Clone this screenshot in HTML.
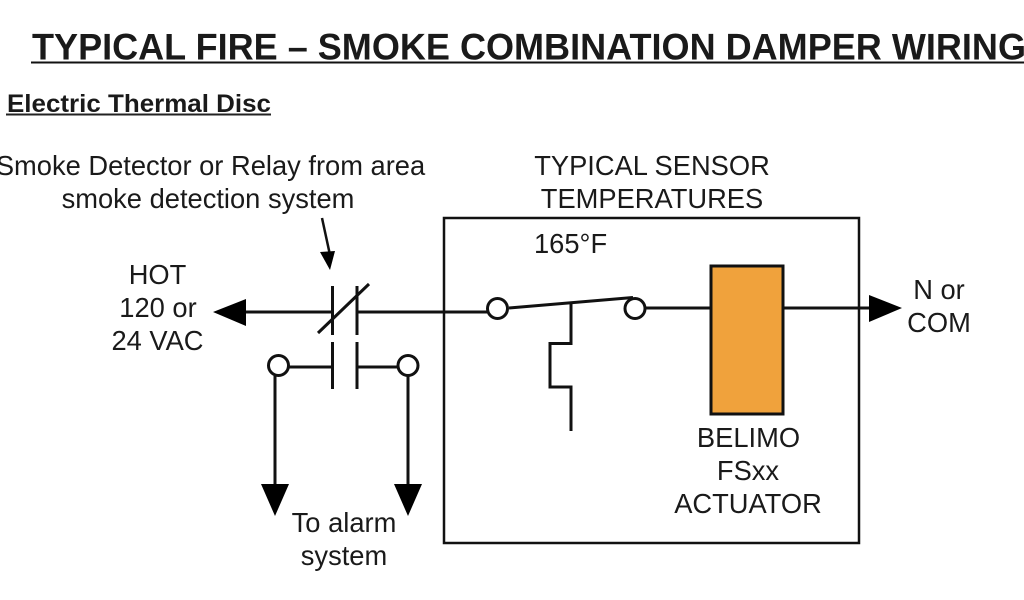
<!DOCTYPE html>
<html>
<head>
<meta charset="utf-8">
<style>
html,body{margin:0;padding:0;background:#fff;width:1024px;height:600px;overflow:hidden}
svg{display:block}
text{font-family:"Liberation Sans",Arial,sans-serif;fill:#1a1a1a}
</style>
</head>
<body>
<svg width="1024" height="600" viewBox="0 0 1024 600" xmlns="http://www.w3.org/2000/svg">
<rect width="1024" height="600" fill="#fff"/>
<text x="32" y="59.500" font-size="37" font-weight="bold" fill="#111" textLength="994" lengthAdjust="spacingAndGlyphs">TYPICAL FIRE – SMOKE COMBINATION DAMPER WIRING</text>
<rect x="31" y="61.500" width="993" height="2" fill="#111"/>
<text x="7" y="112" font-size="25" font-weight="bold" textLength="264" lengthAdjust="spacingAndGlyphs">Electric Thermal Disc</text>
<rect x="6" y="113.500" width="265" height="2" fill="#222"/>
<g font-size="27.300" text-anchor="middle">
<text x="210.500" y="175">Smoke Detector or Relay from area</text>
<text x="208" y="208">smoke detection system</text>
<text x="652" y="175">TYPICAL SENSOR</text>
<text x="652" y="208">TEMPERATURES</text>
<text x="157.500" y="284">HOT</text>
<text x="158" y="317">120 or</text>
<text x="157.500" y="350">24 VAC</text>
<text x="939" y="299">N or</text>
<text x="939" y="332">COM</text>
<text x="344" y="532">To alarm</text>
<text x="344" y="565">system</text>
<text x="748.500" y="447">BELIMO</text>
<text x="748" y="480">FSxx</text>
<text x="748" y="513">ACTUATOR</text>
</g>
<text x="534" y="253" font-size="27.300">165°F</text>
<g fill="none" stroke="#111" stroke-width="3">
<rect x="444" y="218" width="415" height="325" stroke-width="2.500"/>
<line x1="322" y1="218" x2="330" y2="255" stroke-width="2.500"/>
<line x1="240" y1="312" x2="332" y2="312"/>
<line x1="357" y1="312" x2="487" y2="312"/>
<line x1="332.500" y1="286" x2="332.500" y2="335"/>
<line x1="357" y1="286" x2="357" y2="335"/>
<line x1="318" y1="333" x2="369" y2="284"/>
<line x1="332.500" y1="342" x2="332.500" y2="389"/>
<line x1="357" y1="342" x2="357" y2="389"/>
<line x1="289" y1="367" x2="332" y2="367"/>
<line x1="357" y1="367" x2="398" y2="367"/>
<line x1="275" y1="376" x2="275" y2="490"/>
<line x1="408" y1="376" x2="408" y2="490"/>
<circle cx="278.500" cy="365.500" r="10" fill="#fff"/>
<circle cx="408" cy="365.500" r="10" fill="#fff"/>
<circle cx="497.500" cy="308.500" r="10" fill="#fff"/>
<circle cx="635" cy="308.500" r="10" fill="#fff"/>
<line x1="509" y1="308" x2="633" y2="297.500"/>
<polyline points="571,304 571,343.500 550,343.500 550,387 571,387 571,431"/>
<line x1="645" y1="308" x2="711" y2="308"/>
<line x1="783" y1="308" x2="875" y2="308"/>
<rect x="711" y="266" width="72" height="148" fill="#f0a23c"/>
</g>
<g fill="#000">
<polygon points="320,252 335,251 330,270"/>
<polygon points="213,312 246,299 246,326"/>
<polygon points="869,295 902,308 869,322"/>
<polygon points="261,484 289,484 275,516"/>
<polygon points="394,484 422,484 408,516"/>
</g>
</svg>
</body>
</html>
